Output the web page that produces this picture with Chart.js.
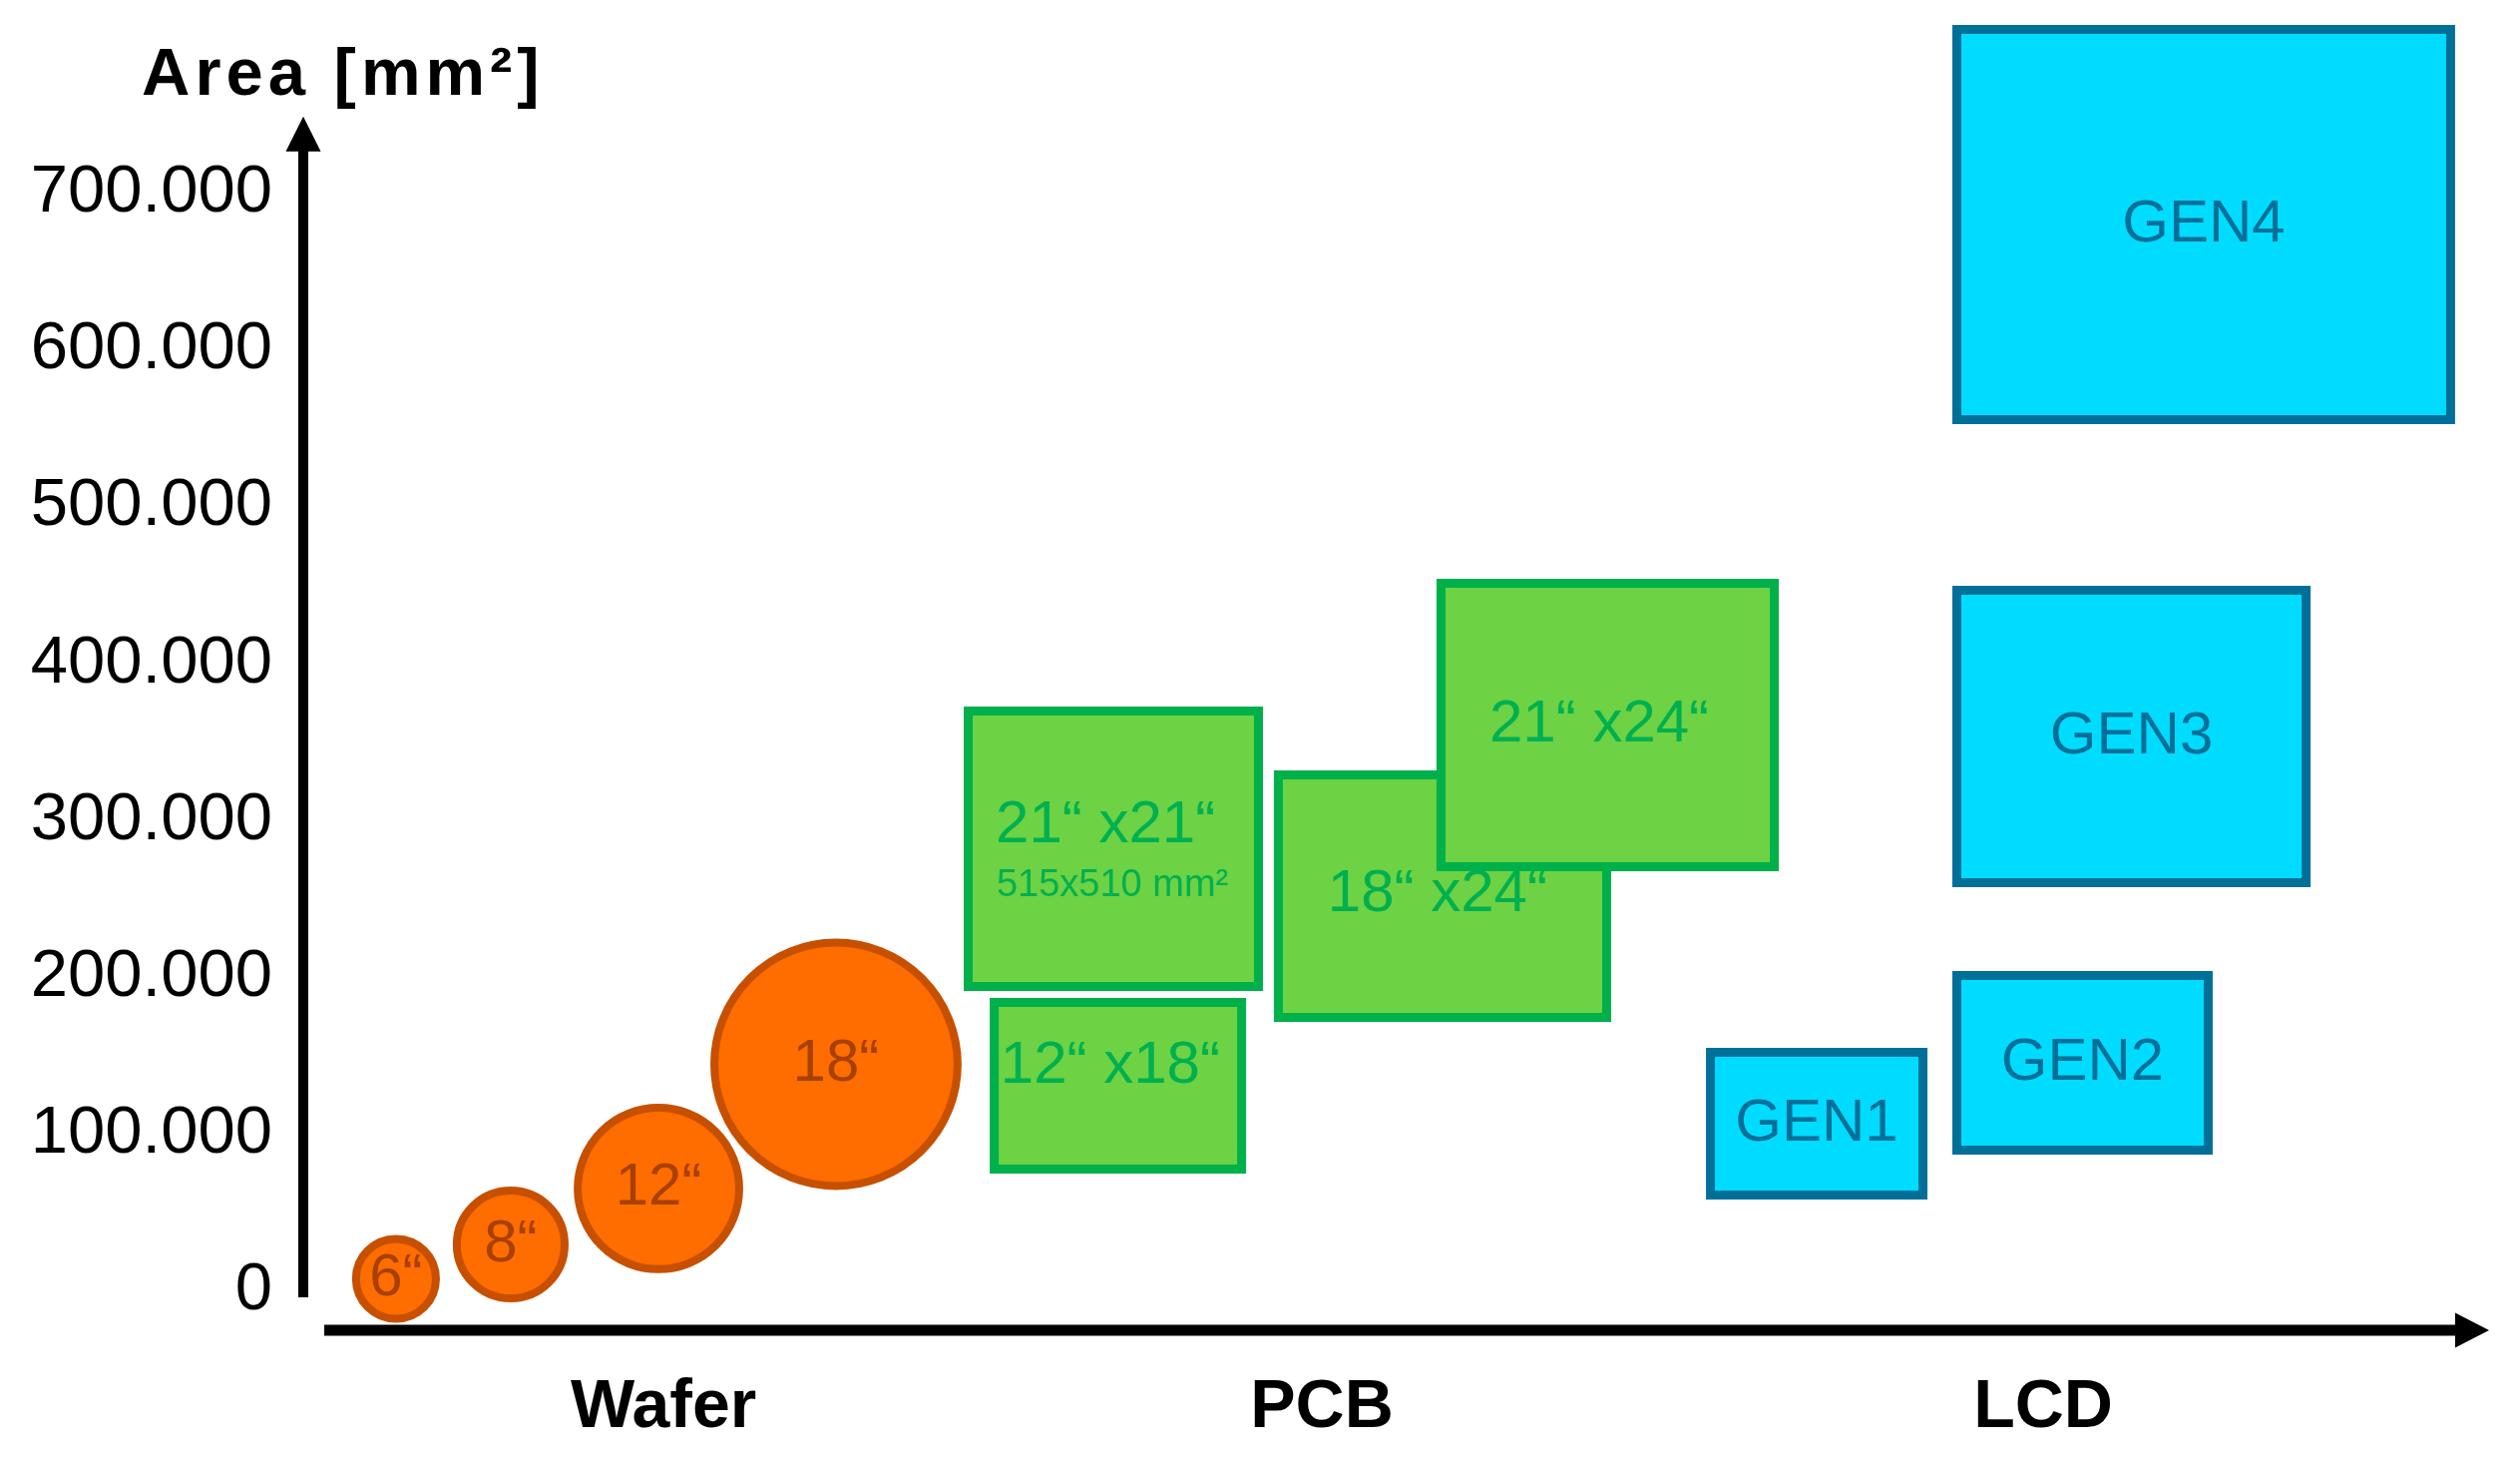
<!DOCTYPE html>
<html><head><meta charset="utf-8">
<script src="https://cdn.jsdelivr.net/npm/chart.js@4.4.1/dist/chart.umd.min.js"></script>
<style>html,body{margin:0;padding:0;background:#fff}#wrap{width:2526px;height:1460px;position:relative}</style>
</head><body><div id="wrap"><canvas id="c"></canvas></div>
<script>
// ---------- data ----------
const categories = ['Wafer', 'PCB', 'LCD'];
const categoryX = [16.48, 46.6, 79.6];
const yTicks = [0, 100000, 200000, 300000, 400000, 500000, 600000, 700000];
const yTitle = 'Area [mm²]';

// wafers (circles): centre x, centre area, radius in area units
const waferLabels = ['6“', '8“', '12“', '18“'];
const waferX = [4.24, 9.49, 16.25, 24.37];
const waferArea = [7800, 29700, 65400, 144600];
const waferRadius = [25500, 34400, 51500, 77600];

// PCB panels (rectangles)
const pcbLabels = ['21“ x21“', '12“ x18“', '18“ x24“', '21“ x24“'];
const pcbX0 = [30.42, 31.61, 44.61, 52.05];
const pcbX1 = [43.70, 42.93, 59.63, 67.30];
const pcbYLow = [194200, 77800, 174500, 270600];
const pcbYHigh = [369900, 184000, 329100, 451300];
const pcbLabelX = [36.70, 36.92, 51.89, 59.29];
const pcbLabelY = [297000, 143600, 252500, 361300];
const pcbSubLabel = '515x510 mm²';
const pcbSubLabelX = 37.02;
const pcbSubLabelY = 258800;

// LCD generations (rectangles)
const lcdLabels = ['GEN1', 'GEN2', 'GEN3', 'GEN4'];
const lcdX0 = [64.38, 75.65, 75.65, 75.65];
const lcdX1 = [74.10, 87.15, 91.63, 98.24];
const lcdYLow = [61200, 89900, 260400, 555700];
const lcdYHigh = [152200, 201200, 446900, 804500];

// axis arrow extents (data units)
const yAxisFrom = -4000, yAxisTo = 749000;
const xAxisFrom = 0.96, xAxisTo = 100;

// ---------- styles ----------
const FONT = "'Liberation Sans', Arial, sans-serif";
const ORANGE = {fill: '#FF6C00', border: '#C65000', text: '#A84000'};
const GREEN = {fill: '#6DD244', border: '#00B04A', text: '#00B050'};
const CYAN = {fill: '#00DCFF', border: '#007099', text: '#007099'};

const fmt = v => String(v).replace(/\B(?=(\d{3})+(?!\d))/g, '.');

function rectData(x0, x1, y0, y1) {
  return [{x: x0, y: y0}, {x: x1, y: y0}, {x: x1, y: y1}, {x: x0, y: y1}, {x: x0, y: y0}];
}

const datasets = [];
let ord = 0;
datasets.push({
  type: 'bubble',
  data: waferX.map((x, i) => ({x: x, y: waferArea[i], r: 1})),
  backgroundColor: ORANGE.fill,
  borderColor: ORANGE.border,
  borderWidth: 8,
  hoverRadius: 0,
  clip: false,
  order: ord--
});
function pushRects(x0, x1, yl, yh, col) {
  x0.forEach((_, i) => {
    datasets.push({
      type: 'line',
      data: rectData(x0[i], x1[i], yl[i], yh[i]),
      fill: 'shape',
      backgroundColor: col.fill,
      borderColor: col.border,
      borderWidth: 9,
      borderCapStyle: 'square',
      borderJoinStyle: 'miter',
      pointRadius: 0,
      pointHoverRadius: 0,
      tension: 0,
      clip: false,
      order: ord--
    });
  });
}
pushRects(pcbX0, pcbX1, pcbYLow, pcbYHigh, GREEN);
pushRects(lcdX0, lcdX1, lcdYLow, lcdYHigh, CYAN);

// ---------- plugins ----------
const axesPlugin = {
  id: 'arrowAxes',
  beforeDatasetsDraw(chart) {
    const {ctx, chartArea, scales: {x, y}} = chart;
    ctx.save();
    ctx.fillStyle = '#000';
    ctx.strokeStyle = '#000';
    const ax = chartArea.left;
    const yb = y.getPixelForValue(yAxisFrom), yt = y.getPixelForValue(yAxisTo);
    ctx.lineWidth = 10;
    ctx.beginPath(); ctx.moveTo(ax, yb); ctx.lineTo(ax, yt + 30); ctx.stroke();
    ctx.beginPath(); ctx.moveTo(ax, yt); ctx.lineTo(ax - 17.5, yt + 35); ctx.lineTo(ax + 17.5, yt + 35); ctx.closePath(); ctx.fill();
    const ay = chartArea.bottom;
    const xl = x.getPixelForValue(xAxisFrom), xr = x.getPixelForValue(xAxisTo);
    ctx.lineWidth = 11;
    ctx.beginPath(); ctx.moveTo(xl, ay); ctx.lineTo(xr - 30, ay); ctx.stroke();
    ctx.beginPath(); ctx.moveTo(xr, ay); ctx.lineTo(xr - 34, ay - 17.5); ctx.lineTo(xr - 34, ay + 17.5); ctx.closePath(); ctx.fill();
    ctx.restore();
  }
};

const labelPlugin = {
  id: 'shapeLabels',
  afterDatasetsDraw(chart) {
    const {ctx, scales: {x, y}} = chart;
    ctx.save();
    ctx.textAlign = 'center';
    ctx.textBaseline = 'middle';
    const draw = (t, xv, yv, font, color) => {
      ctx.font = font; ctx.fillStyle = color;
      ctx.fillText(t, x.getPixelForValue(xv), y.getPixelForValue(yv));
    };
    const f = '60px ' + FONT;
    waferLabels.forEach((t, i) => draw(t, waferX[i], waferArea[i], f, ORANGE.text));
    pcbLabels.forEach((t, i) => draw(t, pcbLabelX[i], pcbLabelY[i], f, GREEN.text));
    draw(pcbSubLabel, pcbSubLabelX, pcbSubLabelY, '38px ' + FONT, GREEN.text);
    lcdLabels.forEach((t, i) => draw(t, (lcdX0[i] + lcdX1[i]) / 2, (lcdYLow[i] + lcdYHigh[i]) / 2, f, CYAN.text));
    ctx.restore();
  }
};

const titlePlugin = {
  id: 'axisTitle',
  afterDraw(chart) {
    const {ctx} = chart;
    ctx.save();
    ctx.font = 'bold 67px ' + FONT;
    try { ctx.letterSpacing = '5px'; } catch (e) {}
    ctx.fillStyle = '#000';
    ctx.textAlign = 'left';
    ctx.textBaseline = 'alphabetic';
    ctx.fillText(yTitle, 142, 95);
    ctx.restore();
  }
};

const chart = new Chart(document.getElementById('c'), {
  type: 'line',
  data: {datasets: datasets},
  options: {
    responsive: true,
    maintainAspectRatio: false,
    animation: false,
    events: [],
    layout: {autoPadding: false, padding: {top: 13, right: 31, bottom: 0, left: 0}},
    plugins: {legend: {display: false}, tooltip: {enabled: false}, title: {display: false}},
    scales: {
      x: {
        type: 'linear', min: 0, max: 100,
        afterBuildTicks: s => { s.ticks = categoryX.map(v => ({value: v})); },
        afterFit: s => { s.height = 127; s.paddingLeft = 0; s.paddingRight = 0; },
        ticks: {
          callback: (v, i) => categories[i],
          font: {family: FONT, size: 68, weight: 'bold'},
          color: '#000', padding: 37, autoSkip: false, maxRotation: 0, minRotation: 0
        },
        grid: {display: false, drawTicks: false},
        border: {display: false}
      },
      y: {
        type: 'linear', min: -25000, max: 815000,
        afterBuildTicks: s => { s.ticks = yTicks.map(v => ({value: v})); },
        afterFit: s => { s.width = 304; s.paddingTop = 0; s.paddingBottom = 0; },
        ticks: {
          callback: v => fmt(v),
          font: {family: FONT, size: 67},
          color: '#000', padding: 31
        },
        grid: {display: false, drawTicks: false},
        border: {display: false}
      }
    }
  },
  plugins: [axesPlugin, labelPlugin, titlePlugin]
});

// wafer circle radii expressed in area units, converted through the y scale
const ys = chart.scales.y;
chart.data.datasets[0].data.forEach((d, i) => {
  d.r = Math.abs(ys.getPixelForValue(0) - ys.getPixelForValue(waferRadius[i]));
});
chart.update();
</script>
</body></html>
